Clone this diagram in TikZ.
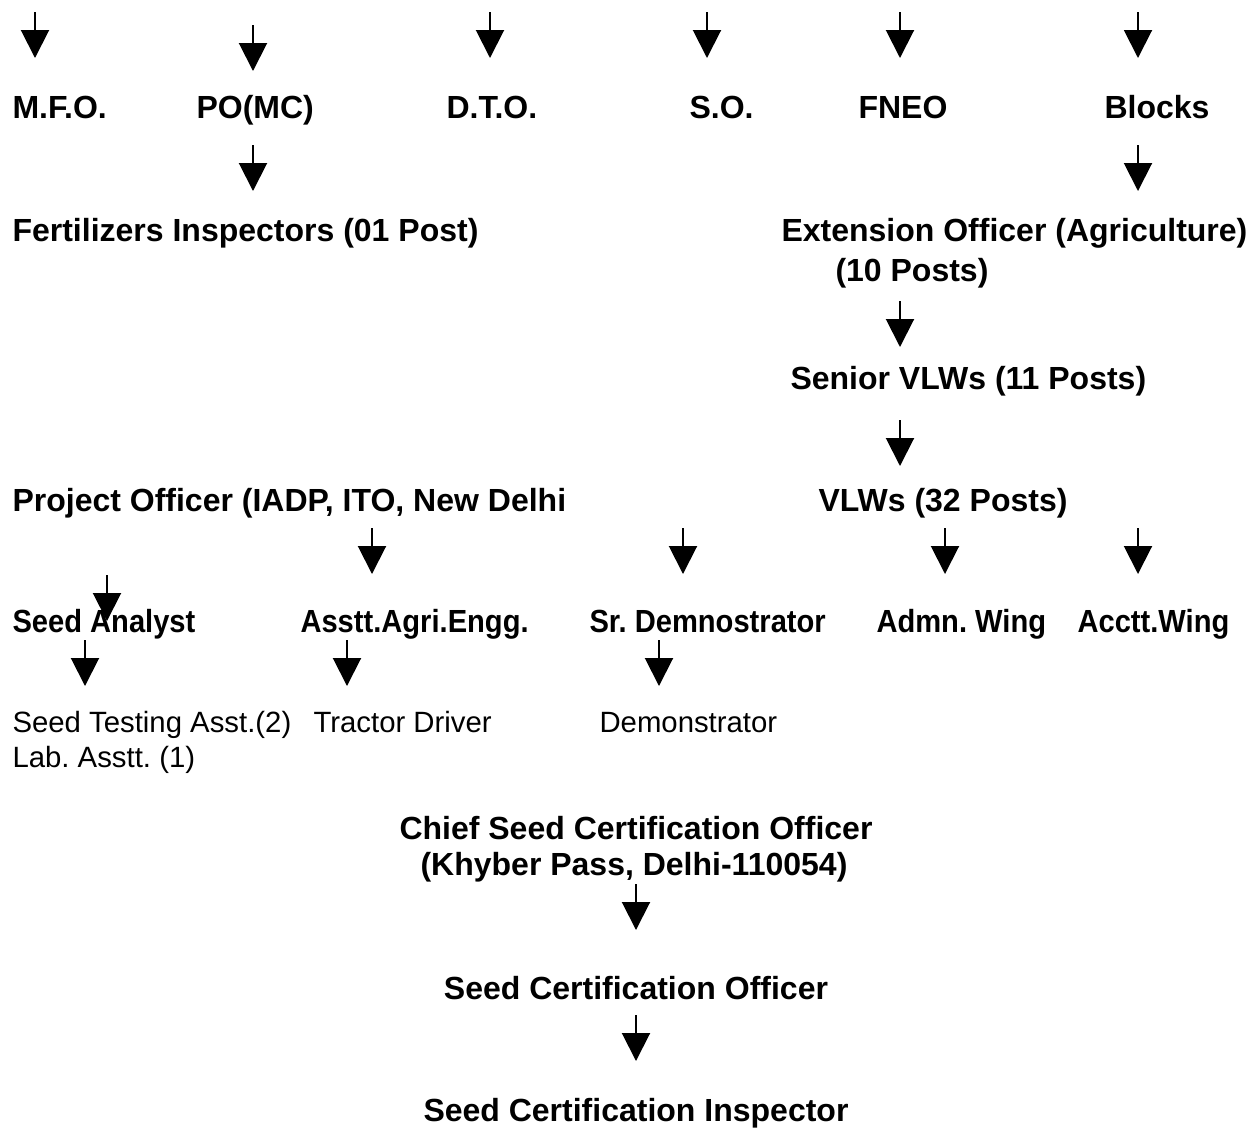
\documentclass[tikz,border=0pt]{standalone}
\usepackage{fontspec}
\setmainfont{Liberation Sans}
\newfontfamily\narrowsans[FakeStretch=0.91]{Liberation Sans}
\usetikzlibrary{arrows.meta, positioning}
\frenchspacing

\tikzset{
  post/.style={font=\bfseries\fontsize{12}{13.8}\selectfont, inner sep=0pt, anchor=base west},
  wing/.style={post, font=\narrowsans\bfseries\fontsize{12}{13.8}\selectfont},
  staff/.style={font=\fontsize{11}{12.65}\selectfont, inner sep=0pt, anchor=base west},
  down/.style={line width=0.75pt, -{Triangle[width=10.5pt, length=10.5pt]}}
}

\begin{document}
\begin{tikzpicture}[x=0.375pt, y=-0.375pt]
        \useasboundingbox (0,0) rectangle (1255,1127);

        \node[post] (mfo)    at (12,118)   {M.F.O.};
        \node[post] (pomc)   at (196,118)  {PO(MC)};
        \node[post] (dto)    at (446,118)  {D.T.O.};
        \node[post] (so)     at (689,118)  {S.O.};
        \node[post] (fneo)   at (858,118)  {FNEO};
        \node[post] (blocks) at (1104,118) {Blocks};

        \node[post] (fert)     at (12,241)  {Fertilizers Inspectors (01 Post)};
        \node[post] (ext)      at (781,241) {Extension Officer (Agriculture)};
        \node[post] (extposts) at (835,281) {(10 Posts)};
        \node[post] (senior)   at (790,389) {Senior VLWs (11 Posts)};
        \node[post] (project)  at (12,511)  {Project Officer (IADP, ITO, New Delhi};
        \node[post] (vlw)      at (818,511) {VLWs (32 Posts)};

        \node[wing] (analyst) at (12,632)   {Seed Analyst};
        \node[wing] (asstt)   at (300,632)  {Asstt.Agri.Engg.};
        \node[wing] (srdemo)  at (589,632)  {Sr. Demnostrator};
        \node[wing] (admn)    at (876,632)  {Admn. Wing};
        \node[wing] (acctt)   at (1077,632) {Acctt.Wing};

        \node[staff] (testing) at (12,732)  {Seed Testing Asst.(2)};
        \node[staff] (lab)     at (12,767)  {Lab. Asstt. (1)};
        \node[staff] (tractor) at (313,732) {Tractor Driver};
        \node[staff] (demo)    at (599,732) {Demonstrator};

        \node[post, anchor=base] (chief)    at (636,839)  {Chief Seed Certification Officer};
        \node[post, anchor=base] (chiefloc) at (634,875)  {(Khyber Pass, Delhi-110054)};
        \node[post, anchor=base] (sco)      at (636,999)  {Seed Certification Officer};
        \node[post, anchor=base] (sci)      at (636,1121) {Seed Certification Inspector};

        % arrows
        \foreach \n/\x/\y in {mfo/35/12, pomc/253/25, dto/490/12, so/707/12, fneo/900/12,
                blocks/1138/12, fert/253/145, ext/1138/145, senior/900/301, vlw/900/420,
                asstt/372/528, srdemo/683/528, admn/945/528, acctt/1138/528, analyst/107/575,
                testing/85/640, tractor/347/640, demo/659/640, sco/636/884, sci/636/1015}
        {
            \coordinate (a\n) at (\x,\y);
            \coordinate (b\n) at (\x,\y+46);
            \draw[down] (a\n) -- (b\n);
        }

\end{tikzpicture}
\end{document}
